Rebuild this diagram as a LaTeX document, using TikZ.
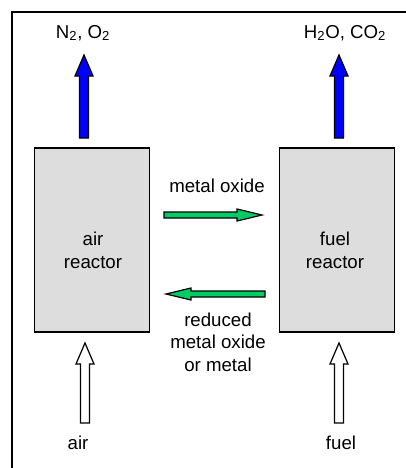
\documentclass[tikz,border=0pt]{standalone}
\usepackage{fontspec}
\setmainfont{Liberation Sans}
\usetikzlibrary{calc}
\definecolor{oxgreen}{RGB}{0,204,102}
\definecolor{boxgray}{RGB}{221,221,221}
\tikzset{
  reactor/.style={draw,fill=boxgray,line width=0.9pt,minimum width=86pt,minimum height=138pt},
  lbl/.style={font=\fontsize{14pt}{17pt}\selectfont,align=center,inner sep=0pt},
  blockline/.style={line width=0.9pt,line join=miter}
}
\newcommand\uparr[3]{\draw[blockline,fill=#1] ($(#2)+(-4.5,0)$) -- ($(#3)+(-4.5,21)$) -- ($(#3)+(-9,21)$) -- (#3) -- ($(#3)+(9,21)$) -- ($(#3)+(4.5,21)$) -- ($(#2)+(4.5,0)$) -- cycle;}
\newcommand\sidearr[3]{\draw[blockline,fill=oxgreen] ($(#1)+(0,-3)$) -- ($(#2)+({-(#3)*25},-3)$) -- ($(#2)+({-(#3)*25},-6)$) -- (#2) -- ($(#2)+({-(#3)*25},6)$) -- ($(#2)+({-(#3)*25},3)$) -- ($(#1)+(0,3)$) -- cycle;}
\begin{document}
\begin{tikzpicture}[x=0.75pt,y=-0.75pt]
\useasboundingbox (0,0) rectangle (406,468);
\draw[line width=1pt] (12,468) -- (12,12) -- (406,12);
\node[reactor] (air) at (92,240) {};
\node[reactor] (fuel) at (337,240) {};
\node[lbl] (airname) at (93,250) {air\\reactor};
\node[lbl] (fuelname) at (335,250) {fuel\\reactor};
\node[lbl] (exhaust) at (83,33) {N\textsubscript{2}, O\textsubscript{2}};
\node[lbl] (flue) at (345,33) {H\textsubscript{2}O, CO\textsubscript{2}};
\node[lbl] (ox) at (217,186) {metal oxide};
\node[lbl] (red) at (218,342) {reduced\\metal oxide\\or metal};
\node[lbl] (airin) at (78,443) {air};
\node[lbl] (fuelin) at (341,443) {fuel};
\coordinate (a1) at (84,138);
\coordinate (a2) at (84,55);
\coordinate (f1) at (339,138);
\coordinate (f2) at (339,55);
\coordinate (a3) at (85,423);
\coordinate (a4) at (85,343);
\coordinate (f3) at (339,423);
\coordinate (f4) at (339,343);
\coordinate (o1) at (164,215);
\coordinate (o2) at (262,215);
\coordinate (r1) at (265,294);
\coordinate (r2) at (166,294);
\uparr{blue}{a1}{a2}
\uparr{blue}{f1}{f2}
\uparr{white}{a3}{a4}
\uparr{white}{f3}{f4}
\sidearr{o1}{o2}{1}
\sidearr{r1}{r2}{-1}
\end{tikzpicture}
\end{document}
